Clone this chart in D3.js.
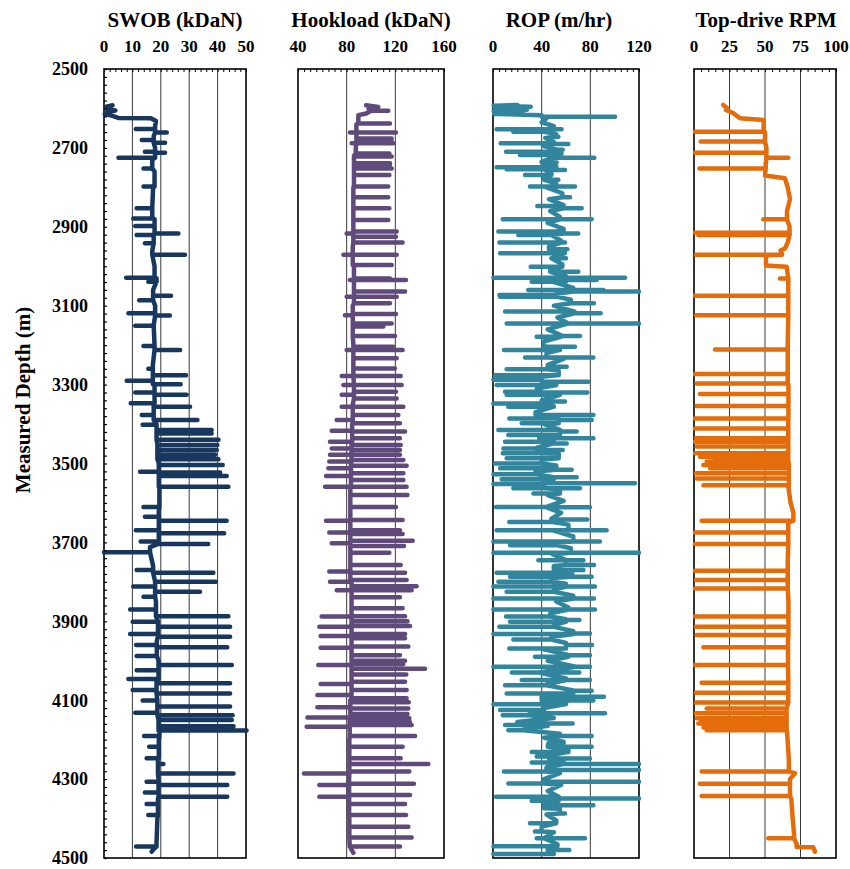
<!DOCTYPE html>
<html>
<head>
<meta charset="utf-8">
<script src="https://cdn.jsdelivr.net/npm/d3@7/dist/d3.min.js"></script>
<style>
  body { margin: 0; background: #fff; }
  text { font-family: "Liberation Serif", "Times New Roman", serif; font-weight: bold; fill: #000; }
</style>
</head>
<body>
<svg id="chart" width="850" height="869"></svg>
<script>
// depth axis
const depthTicks = [2500, 2700, 2900, 3100, 3300, 3500, 3700, 3900, 4100, 4300, 4500];

// x tick labels for each track
const swobTicks = [0, 10, 20, 30, 40, 50];
const hookTicks = [40, 80, 120, 160];
const ropTicks = [0, 40, 80, 120];
const rpmTicks = [0, 25, 50, 75, 100];

// SWOB (kDaN): trend [depth, value] and excursions [depth, value]
const swobBase = [
  [2592, 3], [2596, 0.5], [2601, 1.5], [2605, 4], [2609, 1], [2614, 0.3], [2619, 3], [2624, 5],
  [2625, 16.5], [2632, 18.3], [2645, 18], [2670, 17.5], [2700, 18], [2730, 17], [2760, 17.8],
  [2800, 17.3], [2850, 17], [2880, 17.8], [2920, 17.5], [2960, 17], [3000, 17.8], [3030, 18.5],
  [3060, 17.3], [3100, 18], [3150, 17.5], [3200, 17.8], [3250, 17.2], [3300, 17.8], [3350, 17.5],
  [3400, 18.5], [3450, 18.8], [3500, 19.3], [3560, 19.5], [3620, 19.3], [3700, 19.2], [3712, 16.2],
  [3760, 17.3], [3800, 18], [3850, 18.3], [3900, 19], [3950, 18.6], [4000, 19.2], [4050, 18.5],
  [4100, 18.8], [4150, 19.2], [4180, 19.5], [4200, 19.3], [4250, 19], [4300, 19.2], [4350, 19],
  [4400, 18.8], [4460, 18.5], [4475, 17.8], [4484, 16.8]
];
const swobSpikes = [
  [2652, 11.2], [2661, 22.1], [2680, 13.3], [2687, 21.5], [2710, 14.4], [2712, 21.5], [2725, 5.1],
  [2752, 13.9], [2798, 13.9], [2853, 11.5], [2879, 10.3], [2898, 11.0], [2917, 26.2], [2921, 11.5],
  [2942, 14.4], [2971, 28.5], [3029, 7.8], [3039, 15.6], [3075, 23.6], [3086, 12.4], [3119, 8.6],
  [3125, 23.2], [3151, 11.0], [3202, 13.9], [3212, 26.8], [3260, 15.6], [3276, 28.9], [3290, 8.0],
  [3299, 27.0], [3320, 11.0], [3326, 29.1], [3347, 9.4], [3356, 30.3], [3377, 13.3], [3390, 32.9],
  [3402, 13.6], [3415, 37.9], [3424, 37.9], [3440, 40.3], [3453, 39.9], [3466, 39.7], [3478, 39.1],
  [3489, 40.3], [3504, 41.8], [3521, 12.7], [3523, 40.9], [3532, 43.2], [3559, 43.8], [3610, 13.9],
  [3635, 14.4], [3645, 43.2], [3669, 11.2], [3677, 42.3], [3698, 12.9], [3704, 36.7], [3725, 0],
  [3770, 11.5], [3777, 38.5], [3800, 39.4], [3812, 10.3], [3825, 33.8], [3838, 13.9], [3870, 9.2],
  [3887, 43.8], [3901, 10.1], [3914, 44.4], [3932, 9.2], [3939, 44.4], [3960, 11.3], [3966, 43.4],
  [3988, 11.5], [4011, 45.0], [4024, 11.5], [4046, 8.6], [4057, 44.4], [4074, 10.1], [4083, 44.4],
  [4101, 13.6], [4116, 44.4], [4132, 11.0], [4138, 45.3], [4150, 45.0], [4166, 45.6], [4177, 50.2],
  [4191, 14.1], [4218, 15.9], [4247, 15.0], [4262, 20.9], [4286, 45.6], [4307, 15.0], [4315, 43.4],
  [4334, 14.4], [4345, 43.4], [4363, 15.0], [4391, 15.6], [4471, 11.3]
];

// Hookload (kDaN)
const hookBase = [
  [2592, 96], [2596, 106], [2600, 98], [2606, 100], [2613, 96], [2617, 89.6], [2640, 88],
  [2700, 87.5], [2720, 86], [2800, 85.5], [2900, 85.5], [2950, 85], [3000, 86], [3100, 85],
  [3200, 85.5], [3300, 86], [3350, 85], [3400, 84.5], [3450, 84], [3500, 83.5], [3560, 83],
  [3700, 83], [3800, 84], [3900, 84], [4000, 84], [4100, 83], [4150, 82.5], [4200, 82.2],
  [4300, 82], [4400, 82.2], [4470, 82.5], [4487, 85.5]
];
const hookSpikes = [
  [2606, 114.2], [2638, 115.6], [2661, 82.7], [2661, 120.5], [2676, 117], [2680, 117], [2688, 84.1],
  [2688, 118.4], [2714, 115.1], [2722, 117], [2739, 115.6], [2743, 115.6], [2752, 117], [2769, 115.1],
  [2798, 114.2], [2825, 114.2], [2853, 115.1], [2883, 114.2], [2912, 121.1], [2917, 80], [2925, 120.5],
  [2940, 126], [2971, 77.3], [2971, 121.1], [2997, 117], [3031, 115.6], [3035, 82.7], [3035, 128.8],
  [3064, 128], [3077, 80], [3077, 121.1], [3094, 115.6], [3121, 120.5], [3124, 78.6], [3145, 117],
  [3153, 110.1], [3177, 119.7], [3204, 118.4], [3212, 80], [3212, 126], [3233, 121.1], [3259, 119.7],
  [3278, 75.9], [3278, 124.4], [3301, 77.3], [3301, 125.2], [3318, 120.5], [3326, 75.9], [3335, 121.1],
  [3356, 75.9], [3356, 126.6], [3377, 122.5], [3390, 71.8], [3398, 123.8], [3417, 67.7], [3419, 128],
  [3436, 123.8], [3445, 66.3], [3453, 124.4], [3462, 67.7], [3466, 123.8], [3478, 66.3], [3478, 123.8],
  [3491, 126.6], [3495, 65.7], [3506, 129.3], [3512, 64.9], [3525, 126.6], [3532, 63], [3542, 126.6],
  [3559, 62.2], [3559, 129.3], [3580, 129.9], [3610, 120.5], [3643, 126], [3645, 63], [3669, 123.8],
  [3675, 65.7], [3679, 126], [3696, 134.3], [3702, 67.7], [3709, 127.1], [3726, 115.1], [3757, 124.4],
  [3774, 65.7], [3777, 128], [3795, 129.3], [3800, 66.3], [3811, 137.5], [3821, 71.8], [3821, 133.4],
  [3839, 123.8], [3867, 126], [3887, 128], [3888, 59.4], [3900, 130], [3912, 132.1], [3914, 57.5],
  [3932, 128], [3937, 58.6], [3943, 128], [3964, 130.7], [3967, 58.6], [3986, 123.8], [4000, 128],
  [4008, 126.6], [4011, 56.7], [4020, 144.4], [4035, 129], [4053, 128], [4059, 58.6], [4074, 129.3],
  [4087, 55.9], [4095, 129.3], [4105, 131], [4118, 55.9], [4121, 130.7], [4135, 130], [4144, 47.7],
  [4146, 131.5], [4155, 132], [4163, 133.4], [4167, 47.1], [4191, 136.2], [4218, 126], [4247, 124.4],
  [4262, 147.1], [4281, 131.5], [4286, 44.9], [4312, 135.3], [4315, 57.5], [4340, 132.1], [4345, 57.5],
  [4363, 128], [4391, 128.8], [4421, 130.7], [4448, 133.4], [4471, 123.8]
];

// ROP (m/hr)
const ropBase = [
  [2591, 20], [2593, 0.5], [2596, 31], [2600, 2], [2603, 28], [2607, 0.5], [2611, 25], [2614, 1],
  [2617, 40], [2625, 44], [2635, 40], [2645, 50], [2655, 42], [2665, 52], [2675, 43], [2685, 50],
  [2695, 41], [2705, 53], [2715, 44], [2725, 50], [2735, 40], [2745, 52], [2755, 43], [2765, 48],
  [2775, 42], [2790, 52], [2800, 44], [2815, 57], [2830, 46], [2845, 58], [2860, 47], [2875, 55],
  [2890, 45], [2905, 58], [2920, 48], [2935, 56], [2950, 46], [2965, 59], [2980, 48], [2995, 57],
  [3010, 47], [3025, 60], [3040, 50], [3055, 66], [3070, 52], [3085, 64], [3100, 50], [3115, 67],
  [3130, 53], [3145, 62], [3160, 45], [3175, 56], [3190, 42], [3205, 55], [3220, 44], [3235, 58],
  [3250, 45], [3265, 54], [3280, 40], [3295, 52], [3310, 36], [3325, 55], [3340, 40], [3355, 50],
  [3370, 35], [3385, 54], [3400, 42], [3415, 55], [3430, 38], [3445, 50], [3460, 36], [3475, 54],
  [3490, 40], [3505, 52], [3520, 35], [3535, 50], [3550, 42], [3565, 55], [3580, 45], [3595, 58],
  [3610, 44], [3625, 56], [3640, 48], [3655, 62], [3670, 50], [3685, 66], [3700, 52], [3715, 64],
  [3730, 49], [3745, 60], [3760, 50], [3775, 65], [3790, 48], [3805, 60], [3820, 50], [3835, 66],
  [3850, 52], [3865, 62], [3880, 47], [3895, 60], [3910, 50], [3925, 66], [3940, 48], [3955, 60],
  [3970, 40], [3985, 62], [4000, 45], [4015, 68], [4030, 38], [4045, 60], [4060, 44], [4075, 66],
  [4090, 40], [4105, 60], [4120, 42], [4135, 30], [4145, 50], [4155, 20], [4165, 45], [4175, 25],
  [4185, 55], [4195, 42], [4205, 58], [4215, 45], [4225, 62], [4240, 46], [4255, 58], [4270, 44],
  [4285, 55], [4300, 42], [4315, 56], [4330, 45], [4345, 54], [4360, 42], [4375, 55], [4390, 44],
  [4405, 52], [4420, 40], [4435, 50], [4450, 42], [4465, 53], [4480, 45], [4490, 50]
];
const ropSpikes = [
  [2621, 100.3], [2653, 3.0], [2653, 56.4], [2659, 16.7], [2672, 53.7], [2688, 6.3], [2690, 61.9],
  [2705, 57.3], [2710, 10.7], [2714, 56.4], [2718, 22.2], [2725, 83.3], [2737, 52.3], [2749, 3.0],
  [2754, 11.2], [2756, 59.2], [2769, 26.3], [2781, 53.7], [2798, 30.4], [2798, 67.4], [2825, 63.3],
  [2847, 36.4], [2853, 72.9], [2881, 8.0], [2881, 81.1], [2912, 4.4], [2917, 70.1], [2921, 20.8],
  [2940, 5.2], [2940, 59.2], [2957, 61.1], [2967, 5.8], [2980, 60.0], [3001, 31.0], [3014, 70.1],
  [3029, 0.3], [3029, 108.5], [3035, 85.2], [3039, 31.8], [3060, 29.0], [3060, 90.7], [3064, 120],
  [3073, 5.2], [3077, 5.8], [3094, 83.0], [3115, 9.9], [3119, 88.5], [3145, 11.2], [3145, 120],
  [3177, 71.5], [3179, 35.9], [3204, 67.4], [3212, 9.0], [3231, 26.3], [3231, 82.5], [3255, 60.6],
  [3261, 11.2], [3276, 1.6], [3288, 0.3], [3293, 78.4], [3301, 3.0], [3318, 9.9], [3320, 77.5],
  [3326, 11.2], [3343, 59.2], [3348, 0.3], [3356, 12.6], [3377, 82.5], [3386, 13.4], [3390, 81.1],
  [3398, 23.6], [3415, 4.4], [3419, 68.8], [3428, 12.6], [3436, 82.5], [3445, 9.9], [3449, 60.6],
  [3462, 8.5], [3466, 57.3], [3474, 8.0], [3487, 11.2], [3500, 1.6], [3512, 5.8], [3516, 64.7],
  [3527, 0.3], [3535, 68.8], [3540, 7.1], [3550, 116.7], [3552, 0.3], [3563, 16.7], [3563, 71.5],
  [3576, 33.2], [3610, 2.5], [3611, 79.7], [3642, 77.5], [3648, 13.4], [3669, 3.0], [3669, 93.4],
  [3698, 0.3], [3698, 87.9], [3707, 14.0], [3726, 0.3], [3726, 120], [3745, 37.3], [3745, 74.3],
  [3757, 83.0], [3770, 74.3], [3777, 3.0], [3787, 14.0], [3787, 81.1], [3800, 4.4], [3812, 0.3],
  [3812, 83.8], [3825, 11.2], [3842, 0.3], [3842, 83.0], [3870, 0.3], [3870, 83.8], [3888, 10.7],
  [3897, 71.0], [3901, 14.0], [3914, 5.2], [3931, 79.7], [3932, 0.3], [3946, 16.7], [3960, 81.4],
  [3969, 13.4], [3986, 79.7], [3990, 34.5], [4015, 0.3], [4015, 79.7], [4030, 15.4], [4030, 71.0],
  [4049, 23.6], [4049, 79.7], [4062, 9.9], [4076, 81.1], [4083, 11.2], [4091, 91.2], [4101, 82.5],
  [4110, 0.3], [4125, 5.8], [4133, 92.1], [4138, 8.0], [4159, 65.5], [4163, 9.9], [4176, 12.6],
  [4191, 81.1], [4209, 45.5], [4218, 81.1], [4231, 31.8], [4243, 35.9], [4248, 79.7], [4258, 31.8],
  [4262, 120], [4277, 120], [4281, 9.0], [4307, 120], [4311, 12.6], [4345, 2.5], [4349, 120],
  [4355, 31.8], [4366, 82.5], [4374, 42.7], [4387, 59.2], [4412, 30.4], [4433, 34.5], [4450, 35.9],
  [4450, 75.6], [4470, 0.3], [4480, 62.7], [4490, 0.3]
];

// Top-drive RPM
const rpmBase = [
  [2591, 20.6], [2598, 23], [2604, 22.5], [2612, 27.7], [2625, 32.4], [2629, 49], [2660, 50],
  [2700, 51], [2740, 50.5], [2770, 50], [2777, 64], [2800, 66], [2830, 67.6], [2860, 65.5],
  [2900, 67.3], [2940, 66], [2955, 64], [2960, 61], [2970, 62], [2972, 50.7], [2998, 50.7],
  [3001, 65.2], [3030, 66.4], [3100, 66.4], [3200, 66], [3300, 66.5], [3400, 66.4], [3500, 66.8],
  [3560, 66.5], [3600, 68], [3625, 70], [3650, 66.4], [3750, 66], [3850, 66.5], [3950, 66.2],
  [4050, 66.4], [4120, 65.2], [4180, 65.5], [4250, 66.8], [4285, 71.1], [4300, 67.6], [4350, 68.5],
  [4400, 69.5], [4440, 70.5], [4465, 72.3], [4472, 72.3], [4473, 84], [4484, 85.2]
];
const rpmSpikes = [
  [2659, 0.7], [2684, 4.7], [2712, 0.7], [2725, 66.4], [2752, 3.8], [2881, 48.8], [2915, 0.7],
  [2921, 3.0], [2971, 1.4], [3031, 60.5], [3075, 0.7], [3124, 1.4], [3211, 14.8], [3273, 0.7],
  [3297, 1.9], [3324, 4.2], [3354, 1.9], [3386, 0.7], [3411, 0.7], [3436, 1.4], [3445, 0.7],
  [3457, 1.9], [3474, 0.7], [3483, 4.2], [3490, 15], [3495, 8.9], [3504, 6.6], [3508, 18],
  [3512, 11.3], [3525, 1.4], [3538, 1.9], [3555, 6.6], [3645, 5.4], [3675, 0.7], [3704, 0.7],
  [3772, 0.7], [3795, 1.4], [3817, 0.7], [3888, 0.7], [3914, 1.4], [3935, 1.9], [3966, 6.6],
  [4011, 0.7], [4056, 5.4], [4081, 1.4], [4106, 1.4], [4121, 8.9], [4133, 1.4], [4146, 1.9],
  [4152, 5], [4159, 3.0], [4169, 6.6], [4176, 8.9], [4281, 5.4], [4312, 4.2], [4343, 5.4], [4450, 52.3]
];

const plotTop = 69, plotBottom = 858;
const y = d3.scaleLinear().domain([2500, 4500]).range([plotTop, plotBottom]);

const tracks = [
  { title: "SWOB (kDaN)", titleX: 175, x0: 104, x1: 246, domain: [0, 50], ticks: swobTicks, minor: 2,
    base: swobBase, spikes: swobSpikes, color: "#17375E" },
  { title: "Hookload (kDaN)", titleX: 371, x0: 298, x1: 444, domain: [40, 160], ticks: hookTicks, minor: 5,
    base: hookBase, spikes: hookSpikes, color: "#604A7B" },
  { title: "ROP (m/hr)", titleX: 559, x0: 493, x1: 639, domain: [0, 120], ticks: ropTicks, minor: 5,
    base: ropBase, spikes: ropSpikes, color: "#31859C" },
  { title: "Top-drive RPM", titleX: 766, x0: 694, x1: 836, domain: [0, 100], ticks: rpmTicks, minor: 5,
    base: rpmBase, spikes: rpmSpikes, color: "#E46C0A" }
];

// trend + excursions: each excursion leaves from the last trend value and comes back
function buildTrace(base, spikes) {
  const events = base.map((d) => ({ d: d[0], v: d[1], s: false }))
    .concat(spikes.map((d) => ({ d: d[0], v: d[1], s: true })));
  events.sort((a, b) => a.d - b.d || (a.s - b.s));
  let cur = base[0][1];
  const pts = [];
  for (const e of events) {
    if (!e.s) {
      cur = e.v;
      pts.push([e.d, e.v]);
    } else {
      pts.push([e.d, cur], [e.d, e.v], [e.d, cur]);
    }
  }
  return pts;
}

const svg = d3.select("#chart");

for (const t of tracks) {
  const x = d3.scaleLinear().domain(t.domain).range([t.x0, t.x1]);
  const g = svg.append("g");

  // gridlines at major ticks
  g.selectAll("line.grid")
    .data(t.ticks.slice(1, -1))
    .enter()
    .append("line")
    .attr("x1", (d) => x(d)).attr("x2", (d) => x(d))
    .attr("y1", plotTop).attr("y2", plotBottom)
    .attr("stroke", "#3a3a3a").attr("stroke-width", 1);

  // top axis: minor ticks pointing in, labels above
  const axis = d3.axisTop(x)
    .tickValues(d3.range(t.domain[0], t.domain[1] + 0.001, t.minor))
    .tickSize(-3)
    .tickFormat("");
  const ax = g.append("g").attr("transform", `translate(0,${plotTop})`).call(axis);
  ax.select(".domain").remove();
  ax.selectAll("line").attr("stroke", "#000").attr("stroke-width", 1);

  g.selectAll("text.tl")
    .data(t.ticks)
    .enter()
    .append("text")
    .attr("x", (d) => x(d))
    .attr("y", 52)
    .attr("text-anchor", "middle")
    .attr("font-size", 17)
    .text((d) => d);

  g.append("text")
    .attr("x", t.titleX)
    .attr("y", 27)
    .attr("text-anchor", "middle")
    .attr("font-size", 21)
    .text(t.title);

  // frame
  g.append("rect")
    .attr("x", t.x0).attr("y", plotTop)
    .attr("width", t.x1 - t.x0).attr("height", plotBottom - plotTop)
    .attr("fill", "none").attr("stroke", "#000").attr("stroke-width", 1.6);

  const line = d3.line().x((d) => x(d[1])).y((d) => y(d[0]));
  g.append("path")
    .datum(buildTrace(t.base, t.spikes))
    .attr("d", line)
    .attr("fill", "none")
    .attr("stroke", t.color)
    .attr("stroke-width", 4.5)
    .attr("stroke-linejoin", "round")
    .attr("stroke-linecap", "round");
}

// depth axis on the first track
const first = tracks[0];
const yAxis = d3.axisLeft(y)
  .tickValues(d3.range(2500, 4501, 20))
  .tickSize(-3)
  .tickFormat("");
const yg = svg.append("g").attr("transform", `translate(${first.x0},0)`).call(yAxis);
yg.select(".domain").remove();
yg.selectAll("line").attr("stroke", "#000").attr("stroke-width", 1.2);

svg.selectAll("text.depth")
  .data(depthTicks)
  .enter()
  .append("text")
  .attr("x", 88)
  .attr("y", (d) => y(d))
  .attr("dy", "0.35em")
  .attr("text-anchor", "end")
  .attr("font-size", 18)
  .text((d) => d);

svg.append("text")
  .attr("transform", "translate(30,400) rotate(-90)")
  .attr("text-anchor", "middle")
  .attr("font-size", 21)
  .text("Measured Depth (m)");
</script>
</body>
</html>
